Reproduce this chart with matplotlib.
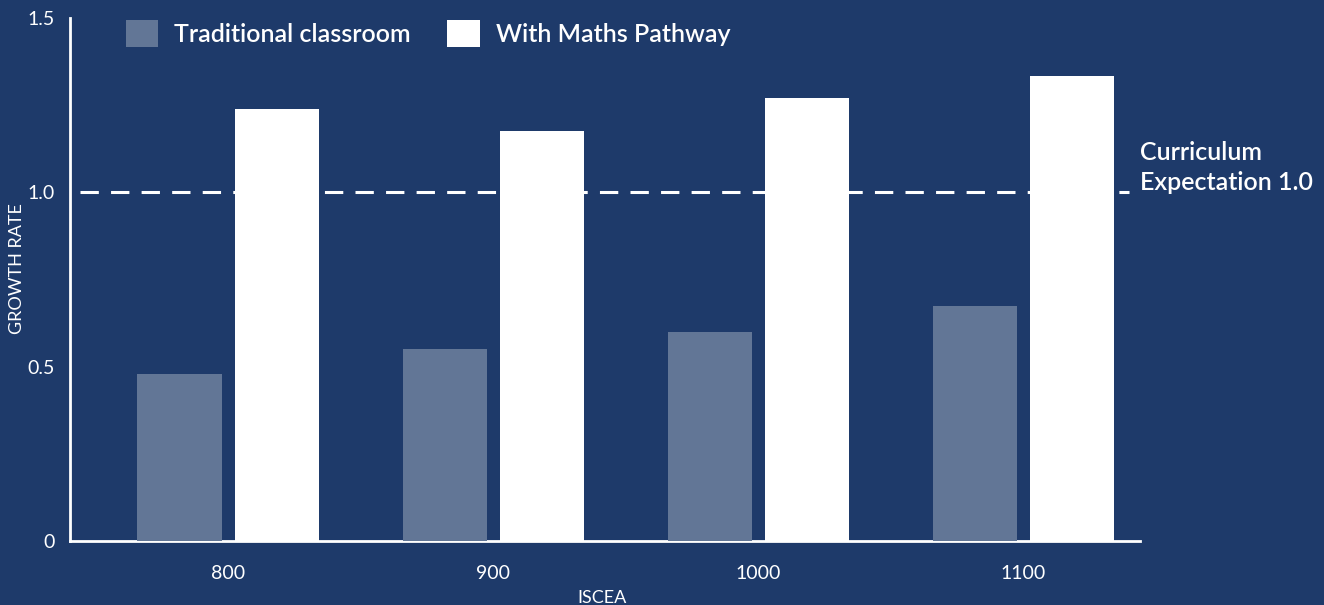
import matplotlib
matplotlib.use("Agg")
import matplotlib.pyplot as plt
import numpy as np
from matplotlib.patches import Patch

categories = ["800", "900", "1000", "1100"]
traditional = [0.48, 0.55, 0.60, 0.675]
maths_pathway = [1.24, 1.175, 1.27, 1.335]
y_ticks = [0, 0.5, 1.0, 1.5]
y_tick_labels = ["0", "0.5", "1.0", "1.5"]
expectation = 1.0

BG = "#1e3a6a"
TRAD = "#627696"
WHITE = "#ffffff"

plt.rcParams['font.family'] = ['Lato', 'DejaVu Sans']

fig = plt.figure(figsize=(13.24, 6.05), dpi=100, facecolor=BG)
ax = fig.add_axes([70/1324, 1-541/605, (1140-70)/1324, (541-18)/605])
ax.set_facecolor(BG)

x = np.arange(len(categories))
w = 0.317
off = 0.183
ax.bar(x - off, traditional, w, color=TRAD, zorder=3, label="Traditional classroom")
ax.bar(x + off, maths_pathway, w, color=WHITE, zorder=3, label="With Maths Pathway")

ax.hlines(expectation, 0.009, 0.99, transform=ax.get_yaxis_transform(),
          colors=WHITE, linestyles=(0, (6, 4)), linewidth=2.2, zorder=2, clip_on=False)
ax.annotate("Curriculum\nExpectation 1.0", xy=(1.0, expectation), xycoords=ax.get_yaxis_transform(),
            xytext=(0, 18), textcoords='offset points',
            color=WHITE, fontsize=18, fontweight='semibold', va='center', ha='left',
            linespacing=1.4)

ax.set_xlim(-0.596, 3.44)
ax.set_ylim(0, 1.5)
ax.set_xticks(x)
ax.set_xticklabels(categories)
ax.set_yticks(y_ticks)
ax.set_yticklabels(y_tick_labels)
ax.tick_params(length=0, colors=WHITE, labelsize=14)
ax.tick_params(axis='x', pad=17)
ax.tick_params(axis='y', pad=11)

for s in ['top', 'right']:
    ax.spines[s].set_visible(False)
for s in ['left', 'bottom']:
    ax.spines[s].set_color(WHITE)
    ax.spines[s].set_linewidth(2)

ax.set_ylabel("GROWTH RATE", color=WHITE, fontsize=13)
ax.set_xlabel("ISCEA", color=WHITE, fontsize=13)
ax.yaxis.set_label_coords((17-70)/1070, 0.52)
ax.xaxis.set_label_coords((602-70)/1070, (541-598)/523)
ax.yaxis.label.set_va('center')
ax.xaxis.label.set_va('center')

handles = [Patch(facecolor=TRAD, edgecolor='none'), Patch(facecolor=WHITE, edgecolor='none')]
leg = fig.legend(handles, ["Traditional classroom", "With Maths Pathway"],
                 loc='upper left', bbox_to_anchor=(103/1324, 1+3/605), ncol=2,
                 frameon=False, handlelength=1.3, handleheight=1.3,
                 handletextpad=0.65, columnspacing=1.45, labelcolor=WHITE,
                 prop={'weight': 'semibold', 'size': 18})

fig.savefig("out.png", dpi=100, facecolor=BG)
